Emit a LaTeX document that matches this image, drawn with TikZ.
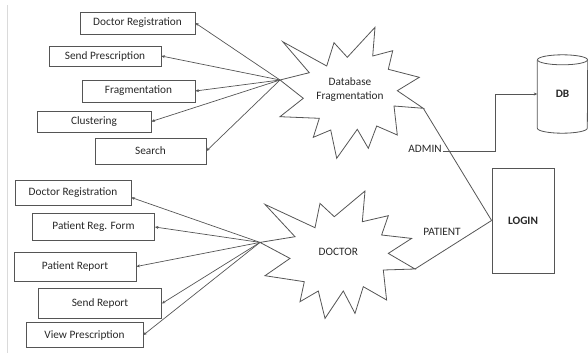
\documentclass[tikz,border=0pt]{standalone}
\usepackage{fontspec}
\setmainfont{Carlito}
\usetikzlibrary{arrows.meta}
\definecolor{linegray}{RGB}{85,85,85}
\definecolor{textgray}{RGB}{40,40,40}
\definecolor{pagegray}{RGB}{218,218,218}
\newcommand{\labelfont}{\fontsize{11.3}{14}\selectfont}
\begin{document}
\begin{tikzpicture}[x=1pt, y=-1pt,
    box/.style={draw=linegray, line width=0.8pt, text=textgray, font=\labelfont, inner sep=0pt},
    burst/.style={draw=linegray, line width=0.8pt, line join=miter},
    word/.style={text=textgray, font=\labelfont, align=center, inner sep=1pt},
    link/.style={draw=linegray, line width=0.7pt, -{Stealth[length=3.5pt, width=3pt]}},
    plain/.style={draw=linegray, line width=0.8pt}]
  \useasboundingbox (0,0) rectangle (588,356);
  \draw[pagegray, line width=1pt] (7.3,5) -- (7.3,353);

  % admin side
  \node[box, minimum width=115pt, minimum height=22pt] (regA)    at (137.5,23)  {Doctor Registration};
  \node[box, minimum width=112pt, minimum height=20pt] (sendA)   at (105,56)    {Send Prescription};
  \node[box, minimum width=113pt, minimum height=22pt] (fragA)   at (138.5,91)  {Fragmentation};
  \node[box, minimum width=114pt, minimum height=21pt] (clusA)   at (94,121.5)  {Clustering};
  \node[box, minimum width=111pt, minimum height=26pt] (searchA) at (150.5,151) {Search};

  % doctor side
  \node[box, minimum width=116pt, minimum height=25pt] (regB)     at (73,192.5)  {Doctor Registration};
  \node[box, minimum width=122pt, minimum height=27pt] (patRegB)  at (93.5,227)  {Patient Reg. Form};
  \node[box, minimum width=122pt, minimum height=29pt] (patRepB)  at (75,266.5)  {Patient Report};
  \node[box, minimum width=123pt, minimum height=30pt] (sendRepB) at (100,303.5) {Send Report};
  \node[box, minimum width=117pt, minimum height=25pt] (viewB)    at (84.5,335)  {View Prescription};

  \draw[burst, shift={(350,90)}] (-70,-10) coordinate (fragL) -- (-40.7,-17.3) -- (-67.3,-48.3)
    -- (-23.3,-24) -- (-16,-47.3) -- (-2.7,-32.7) -- (25,-62.7) -- (22.7,-34) -- (42.7,-39.3)
    -- (38.3,-20.7) -- (69.3,-12.7) -- (47.3,0.7) -- (73.3,18.3) coordinate (fragR) -- (44,16)
    -- (47.3,45) -- (26.7,36) -- (18.3,58.3) -- (7.3,39.3) -- (-13.3,68.3) -- (-19.3,40)
    -- (-36.7,47.3) -- (-30.7,28.3) -- (-70,26.7) -- (-46.7,8.3) -- cycle;
  \node[word] (frag) at (350,90) {Database\\Fragmentation};

  \draw[burst, shift={(338.3,251.7)}] (-78.3,-9.3) coordinate (docL) -- (-43.3,-15) -- (-73.3,-47.3)
    -- (-23.3,-24) -- (-18.3,-48.3) -- (-4,-35) -- (26.7,-60.7) -- (24,-30) -- (50,-36)
    -- (43.3,-16.7) -- (73.3,-13.3) -- (50,1.7) -- (76.7,17.3) coordinate (docR) -- (45,18.3)
    -- (48.3,48.3) -- (25,35) -- (16.7,61.7) -- (5,39.3) -- (-13.3,66.7) -- (-20,39.3)
    -- (-38.3,50) -- (-34,30) -- (-73.3,24) -- (-48.3,6.7) -- cycle;
  \node[word] (doc) at (338.3,251.7) {DOCTOR};

  \node[box, minimum width=62pt, minimum height=105pt, font=\labelfont\bfseries] (login) at (523,220.5) {LOGIN};
  \node[word, font=\labelfont\bfseries, minimum width=50pt, minimum height=78pt, inner sep=0pt] (db) at (562.5,94) {DB};
  \draw[plain] ([yshift=-5pt]db.north west) -- ([yshift=5pt]db.south west)
    arc[start angle=180, end angle=360, x radius=25pt, y radius=5pt] -- ([yshift=-5pt]db.north east);
  \draw[plain] ([yshift=-5pt]db.north) ellipse[x radius=25pt, y radius=5pt];

  \node[word] (admin) at (425,149) {ADMIN};
  \node[word] (patient) at (442,232) {PATIENT};
  \coordinate (corner) at (495,151);
  \coordinate (upper) at (495,94);

  \draw[link] (fragL) -- (regA.east);
  \draw[link] (fragL) -- (sendA.east);
  \draw[link] (fragL) -- (fragA.east);
  \draw[link] (fragL) -- (clusA.east);
  \draw[link] (fragL) -- (searchA.east);

  \draw[link] (docL) -- ([yshift=-5pt]regB.east);
  \draw[link] (docL) -- (patRegB.east);
  \draw[link] (docL) -- (patRepB.east);
  \draw[link] (docL) -- (sendRepB.east);
  \draw[link] (docL) -- (viewB.east);

  \draw[plain] (fragR) -- (login.west);
  \draw[plain] (docR) -- (login.west);
  \draw[link] (admin.east |- corner) -- (corner) -- (upper) -- (db.west);
\end{tikzpicture}
\end{document}
